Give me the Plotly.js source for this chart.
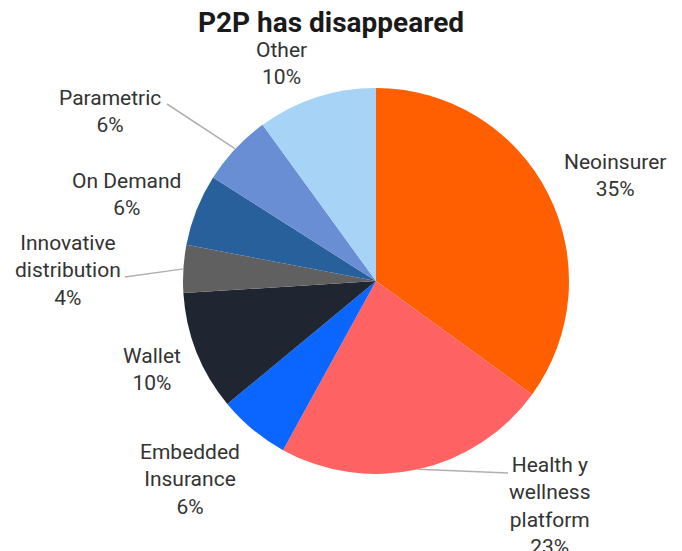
<!DOCTYPE html>
<html>
<head>
<meta charset="utf-8">
<script src="https://cdn.plot.ly/plotly-3.0.1.min.js"></script>
<style>
  html, body { margin: 0; padding: 0; background: #fff; }
  #graph { width: 682px; height: 551px; }
</style>
</head>
<body>
<div id="graph"></div>
<script>
// slice data, clockwise from 12 o'clock
var categories = ["Neoinsurer", "Health y wellness platform", "Embedded Insurance", "Wallet",
                  "Innovative distribution", "On Demand", "Parametric", "Other"];
var shares = [35, 23, 6, 10, 4, 6, 6, 10];
var labelText = ["Neoinsurer", "Health y<br>wellness<br>platform", "Embedded<br>Insurance", "Wallet",
                 "Innovative<br>distribution", "On Demand", "Parametric", "Other"];
var colors = ["#ff5f00", "#ff6262", "#0a66ff", "#1f2531", "#606060", "#28609c", "#6a8ed4", "#a6d3f6"];

var W = 682, H = 551;
// pie placement in pixels
var cx = 376, cy = 281, R = 193;

// label centres (pixels) and leader line text-side ends
var labelPos = {
    "Neoinsurer": [615, 175],
    "Health y wellness platform": [550, 506],
    "Embedded Insurance": [190, 479],
    "Wallet": [152, 369],
    "Innovative distribution": [68, 270],
    "On Demand": [126, 194],
    "Parametric": [110, 111],
    "Other": [281, 63]
};
var leaderEnd = {
    "Health y wellness platform": [508, 473],
    "Innovative distribution": [125, 277],
    "Parametric": [167, 104]
};

function px(x) { return x / W; }
function py(y) { return 1 - y / H; }

function drawGraph() {
    var total = shares.reduce(function (a, b) { return a + b; }, 0);
    var annotations = [], shapes = [];
    var cum = 0;

    for (var i = 0; i < categories.length; i++) {
        var name = categories[i];
        var mid = (cum + shares[i] / 2) / total * 2 * Math.PI;
        cum += shares[i];

        var p = labelPos[name];
        annotations.push({
            x: px(p[0]), y: py(p[1]), xref: "paper", yref: "paper",
            xanchor: "center", yanchor: "middle", showarrow: false,
            text: labelText[i] + "<br>" + shares[i] + "%",
            font: {family: "Roboto, sans-serif", size: 21, color: "#333333"}
        });

        if (leaderEnd[name]) {
            // edge point of slice middle
            var ex = cx + R * Math.sin(mid), ey = cy - R * Math.cos(mid);
            var t = leaderEnd[name];
            shapes.push({
                type: "line", xref: "paper", yref: "paper",
                x0: px(t[0]), y0: py(t[1]), x1: px(ex), y1: py(ey),
                line: {color: "#b0b0b0", width: 1.5}
            });
        }
    }

    var trace = {
        type: "pie",
        labels: categories,
        values: shares,
        sort: false,
        direction: "clockwise",
        rotation: 0,
        textinfo: "none",
        marker: {colors: colors, line: {width: 0}},
        domain: {x: [px(cx - R), px(cx + R)], y: [py(cy + R), py(cy - R)]},
        showlegend: false
    };

    var layout = {
        width: W, height: H,
        margin: {l: 0, r: 0, t: 0, b: 0},
        paper_bgcolor: "#ffffff",
        title: {
            text: "<b>P2P has disappeared</b>",
            x: px(331), xanchor: "center",
            y: py(22), yref: "container", yanchor: "middle",
            font: {family: "Roboto, sans-serif", size: 28, color: "#1a1a1a"}
        },
        annotations: annotations,
        shapes: shapes
    };

    Plotly.newPlot("graph", [trace], layout, {displayModeBar: false, staticPlot: true});
}

drawGraph();
</script>
</body>
</html>
